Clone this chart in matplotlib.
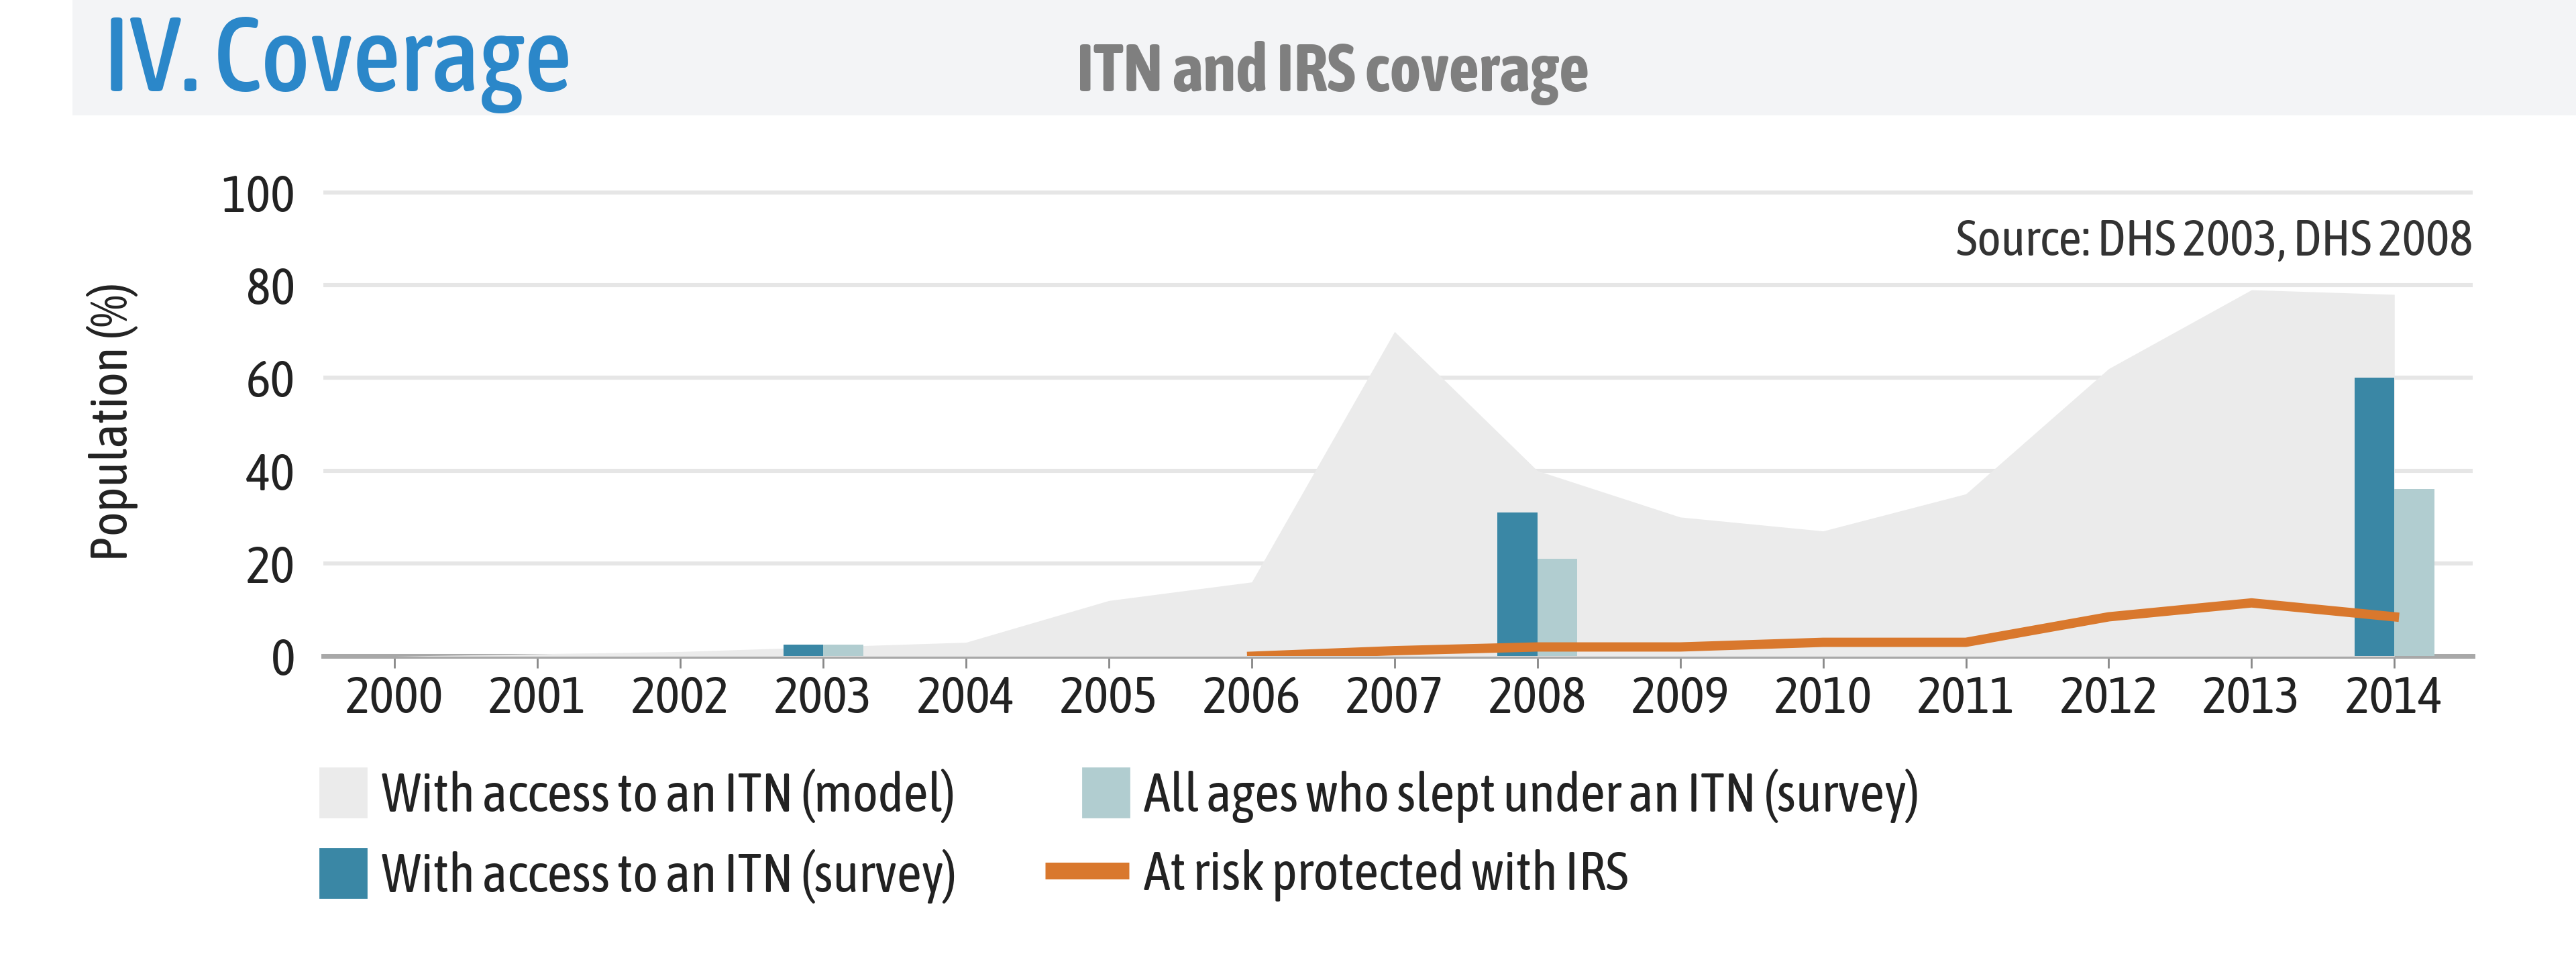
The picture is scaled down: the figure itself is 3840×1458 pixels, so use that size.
import matplotlib
matplotlib.use('Agg')
import matplotlib.pyplot as plt
import matplotlib.patches as mpatches
from matplotlib.lines import Line2D
from matplotlib.legend_handler import HandlerPatch

plt.rcParams['font.family'] = ['Asap Condensed', 'DejaVu Sans']

# Data
years = list(range(2000, 2015))
itn_model = [0, 0.5, 1, 2, 3, 12, 16, 70, 40, 30, 27, 35, 62, 79, 78]

survey_years = [2003, 2008, 2014]
itn_access_survey = [2.5, 31, 60]
itn_slept_survey = [2.5, 21, 36]

irs_years = [2006, 2007, 2008, 2009, 2010, 2011, 2012, 2013, 2014]
irs_protected = [0, 1.2, 2, 2, 3, 3, 8.5, 11.5, 8.5]

y_ticks = [0, 20, 40, 60, 80, 100]

# Colours
c_model = '#ebebeb'
c_access = '#3a87a5'
c_slept = '#b1cdd0'
c_irs = '#d9782d'

fig = plt.figure(figsize=(19.2, 7.29), dpi=200)

# Header band
fig.patches.append(mpatches.Rectangle((0.028, 0.882), 0.972, 0.118, transform=fig.transFigure,
                                      facecolor='#f3f4f6', edgecolor='none', zorder=0))
fig.text(0.040, 0.907, 'IV. Coverage', color='#2b87c9', fontsize=56, fontweight='medium', va='baseline')
fig.text(0.418, 0.907, 'ITN and IRS coverage', color='#7f7f7f', fontsize=36, fontweight='bold', va='baseline')

ax = fig.add_axes([0.1255, 0.329, 0.8345, 0.479])
ax.set_axisbelow(True)

ax.fill_between(years, itn_model, 0, color=c_model, linewidth=0, zorder=1)

bw = 0.28
ax.bar([y - bw / 2 for y in survey_years], itn_access_survey, width=bw, color=c_access, zorder=2)
ax.bar([y + bw / 2 for y in survey_years], itn_slept_survey, width=bw, color=c_slept, zorder=2)

ax.plot(irs_years, irs_protected, color=c_irs, linewidth=5, zorder=3, solid_joinstyle='round')

ax.set_xlim(1999.5, 2014.55)
ax.set_ylim(0, 101)
ax.set_yticks(y_ticks)
ax.set_xticks(years)
ax.set_xticklabels([str(y) for y in years])
ax.grid(axis='y', color='#e6e6e6', linewidth=2.2)
ax.grid(axis='x', visible=False)
for s in ['top', 'right', 'left']:
    ax.spines[s].set_visible(False)
ax.spines['bottom'].set_color('#a8a8a8')
ax.spines['bottom'].set_linewidth(2.5)
ax.spines['bottom'].set_zorder(0.8)
ax.tick_params(axis='y', length=0, pad=15, labelsize=28, labelcolor='#222222')
ax.tick_params(axis='x', length=6.5, width=1, color='#888888', pad=3, labelsize=28, labelcolor='#222222')

ax.set_ylabel('Population (%)', fontsize=28, color='#222222')
ax.yaxis.set_label_coords(-0.086, 0.5)

ax.text(1.0, 0.885, 'Source: DHS 2003, DHS 2008', transform=ax.transAxes, ha='right', va='center',
        fontsize=27, color='#333333')


def narrow_patch(legend, orig_handle, xdescent, ydescent, width, height, fontsize):
    w = width * 0.55
    h = height * 1.3
    return mpatches.Rectangle((-xdescent + width - w, -ydescent + (height - h) / 2), w, h)


handles = [
    mpatches.Patch(color=c_model, label='With access to an ITN (model)'),
    mpatches.Patch(color=c_access, label='With access to an ITN (survey)'),
    mpatches.Patch(color=c_slept, label='All ages who slept under an ITN (survey)'),
    Line2D([0], [0], color=c_irs, linewidth=9, solid_capstyle='butt', label='At risk protected with IRS'),
]
fig.legend(handles=handles, ncol=2, loc='upper left', bbox_to_anchor=(0.1097, 0.214),
           bbox_transform=fig.transFigure, frameon=False, fontsize=29, borderpad=0,
           handlelength=1.55, handletextpad=0.28, columnspacing=1.64, labelspacing=0.48,
           borderaxespad=0, labelcolor='#222222',
           handler_map={mpatches.Patch: HandlerPatch(patch_func=narrow_patch)})

fig.savefig('out.png', dpi=200)
